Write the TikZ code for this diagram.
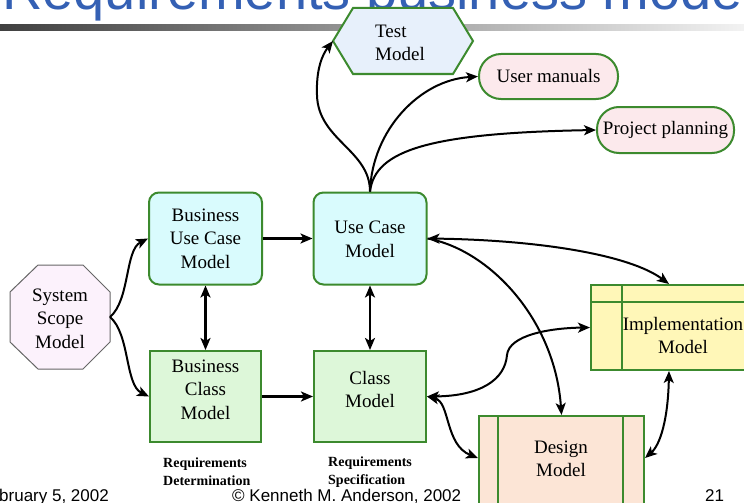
\documentclass[tikz,border=0pt]{standalone}
\usepackage{fontspec}
\setmainfont{Liberation Serif}
\newfontfamily\sansf{Liberation Sans}
\usetikzlibrary{arrows.meta}
\definecolor{gborder}{HTML}{3C8A2E}
\definecolor{cyanfill}{HTML}{D9FBFD}
\definecolor{greenfill}{HTML}{DDF7D9}
\definecolor{pinkfill}{HTML}{FCE9EC}
\definecolor{bluefill}{HTML}{E7F0FB}
\definecolor{lavfill}{HTML}{FCF2FC}
\definecolor{yellowfill}{HTML}{FFF7B8}
\definecolor{peachfill}{HTML}{FCE5D6}
\definecolor{titleblue}{HTML}{3460B4}
\tikzset{
  nodefont/.style={font=\fontsize{19}{23.5}\selectfont},
  txt/.style={nodefont, align=center, inner sep=0pt},
  rbox/.style={draw=gborder, line width=2pt, rounded corners=10pt, fill=cyanfill, inner sep=0pt},
  sbox/.style={draw=gborder, line width=2pt, fill=greenfill, inner sep=0pt},
  pill/.style={draw=gborder, line width=2pt, rounded corners=22pt, fill=pinkfill, inner sep=0pt, nodefont},
  frame/.style={draw=gborder, line width=2pt, inner sep=0pt},
  conn/.style={draw, line width=2pt, -{Stealth[length=12pt,width=10pt,inset=3pt]}},
  dconn/.style={draw, line width=2pt, {Stealth[length=12pt,width=10pt,inset=3pt]}-{Stealth[length=12pt,width=10pt,inset=3pt]}},
  reqlabel/.style={font=\bfseries\fontsize{14}{18}\selectfont, align=left, inner sep=0pt, anchor=west},
  footer/.style={font=\sansf\fontsize{17}{20}\selectfont, inner sep=0pt, anchor=base west}
}
\begin{document}
\begin{tikzpicture}[x=1pt,y=-1pt]
\useasboundingbox (0,0) rectangle (744,503);
% header
\shade[left color=black!75, right color=black!5] (0,25) rectangle (744,30.5);
\node[anchor=base west, inner sep=0pt, text=titleblue, font=\sansf\fontsize{56}{60}\selectfont] (title) at (2,10) {Requirements business model};

% Test Model hexagon
\draw[draw=gborder, line width=2pt, fill=bluefill] (333,41) -- (353,8) -- (453,8) -- (473,41) -- (453,74) -- (353,74) -- cycle;
\coordinate (testW) at (333,41);
\node[txt, align=left] (testT) at (400,43) {Test\\Model};

% pills
\node[pill, minimum width=139pt, minimum height=45pt] (um) at (548.5,76.5) {User manuals};
\node[pill, minimum width=137pt, minimum height=46pt] (pp) at (665.5,130) {Project planning};

% System Scope octagon
\draw[draw=black!60, line width=1pt, fill=lavfill] (38,265) -- (83,265) -- (110,292) -- (110,342) -- (83,369) -- (38,369) -- (10,342) -- (10,292) -- cycle;
\coordinate (sysE) at (110,317);
\node[txt] (sysT) at (60,318.5) {System\\Scope\\Model};

% rounded boxes
\node[rbox, minimum width=113pt, minimum height=92pt] (bucm) at (205.5,238.5) {};
\node[txt] (bucmT) at (205.5,238.5) {Business\\Use Case\\Model};
\node[rbox, minimum width=113pt, minimum height=92pt] (uc) at (370,238.5) {};
\node[txt] (ucT) at (370,239.5) {Use Case\\Model};

% square boxes
\node[sbox, minimum width=111pt, minimum height=91pt] (bcm) at (205.5,396.5) {};
\node[txt] (bcmT) at (205.5,389.5) {Business\\Class\\Model};
\node[sbox, minimum width=112pt, minimum height=91pt] (cm) at (370,396.5) {};
\node[txt] (cmT) at (370,389.5) {Class\\Model};

% Implementation
\node[frame, fill=yellowfill, minimum width=156pt, minimum height=85pt] (impl) at (669,327.5) {};
\draw[gborder, line width=2pt] (622,285) -- (622,370);
\draw[gborder, line width=2pt] (591,302) -- (747,302);
\node[txt] (implT) at (683,335.5) {Implementation\\Model};

% Design
\node[frame, fill=peachfill, minimum width=165pt, minimum height=104pt] (design) at (561.5,468) {};
\draw[gborder, line width=2pt] (498,416) -- (498,520);
\draw[gborder, line width=2pt] (623,416) -- (623,520);
\node[txt] (designT) at (561,459) {Design\\Model};

% labels
\node[reqlabel] (rd) at (163,472) {Requirements\\Determination};
\node[reqlabel] (rs) at (328,472) {Requirements\\Specification};

% footer
\node[footer] (date) at (-1,501.5) {bruary 5, 2002};
\node[footer] (copy) at (232,501.5) {© Kenneth M. Anderson, 2002};
\node[footer] (pg) at (705,501.5) {21};

% connectors
\draw[conn] (sysE) .. controls (130,300) and (125,250) .. (bucm.west);
\draw[conn] (sysE) .. controls (130,334) and (125,385) .. (bcm.west);
\draw[conn, line width=2.5pt] (bucm.east) -- (uc.west);
\draw[conn, line width=2.5pt] (bcm.east) -- (cm.west);
\draw[dconn, line width=2.5pt] (bucm.south) -- (bcm.north);
\draw[dconn, line width=2.5pt] (uc.south) -- (cm.north);
\draw[conn] (uc.north) .. controls (370,150) and (318,140) .. (317,95) .. controls (316,70) and (322,55) .. (testW);
\draw[conn] (uc.north) .. controls (372,130) and (420,80) .. (um.west);
\draw[conn] (uc.north) .. controls (375,150) and (430,133) .. (pp.west);
\draw[dconn] (uc.east) .. controls (540,240) and (630,255) .. (impl.north);
\draw[conn] (uc.east) .. controls (490,250) and (555,320) .. (design.north);
\draw[dconn] (cm.east) .. controls (480,396) and (505,380) .. (507,355) .. controls (509,335) and (550,328) .. (impl.west);
\draw[dconn] (cm.east) .. controls (450,402) and (445,445) .. ([yshift=10pt]design.west);
\draw[dconn] (impl.south) .. controls (668,420) and (660,445) .. ([yshift=10pt]design.east);
\end{tikzpicture}
\end{document}
